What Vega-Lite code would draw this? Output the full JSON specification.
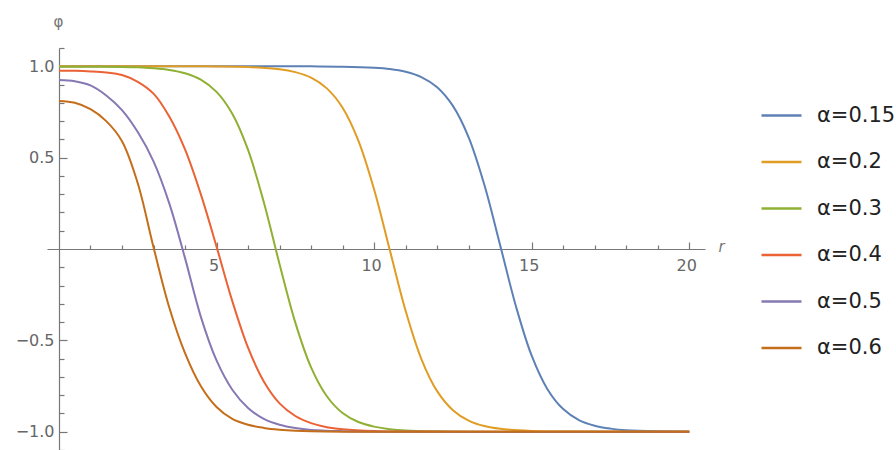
{
  "$schema": "https://vega.github.io/schema/vega-lite/v6.json",
  "width": 658,
  "height": 402,
  "autosize": {"type": "none"},
  "padding": {"left": 47, "top": 48, "right": 191, "bottom": 0},
  "background": "white",
  "config": {"view": {"stroke": null}},
  "datasets": {
    "curves": [
      {"a":"α=0.15","r":0,"p":1},{"a":"α=0.15","r":4,"p":1},{"a":"α=0.15","r":8,"p":0.9995},{"a":"α=0.15","r":9,"p":0.998},{"a":"α=0.15","r":10,"p":0.992},{"a":"α=0.15","r":10.5,"p":0.985},{"a":"α=0.15","r":11,"p":0.970},{"a":"α=0.15","r":11.5,"p":0.941},{"a":"α=0.15","r":12,"p":0.885},{"a":"α=0.15","r":12.5,"p":0.783},{"a":"α=0.15","r":13,"p":0.611},{"a":"α=0.15","r":13.5,"p":0.350},{"a":"α=0.15","r":14,"p":0.021},{"a":"α=0.15","r":14.5,"p":-0.313},{"a":"α=0.15","r":15,"p":-0.584},{"a":"α=0.15","r":15.5,"p":-0.767},{"a":"α=0.15","r":16,"p":-0.876},{"a":"α=0.15","r":16.5,"p":-0.936},{"a":"α=0.15","r":17,"p":-0.967},{"a":"α=0.15","r":17.5,"p":-0.983},{"a":"α=0.15","r":18,"p":-0.992},{"a":"α=0.15","r":19,"p":-0.998},{"a":"α=0.15","r":20,"p":-0.9995},
      {"a":"α=0.2","r":0,"p":1},{"a":"α=0.2","r":4,"p":1},{"a":"α=0.2","r":5,"p":0.999},{"a":"α=0.2","r":6,"p":0.996},{"a":"α=0.2","r":7,"p":0.984},{"a":"α=0.2","r":7.5,"p":0.968},{"a":"α=0.2","r":8,"p":0.938},{"a":"α=0.2","r":8.5,"p":0.879},{"a":"α=0.2","r":9,"p":0.773},{"a":"α=0.2","r":9.5,"p":0.593},{"a":"α=0.2","r":10,"p":0.326},{"a":"α=0.2","r":10.5,"p":-0.007},{"a":"α=0.2","r":11,"p":-0.338},{"a":"α=0.2","r":11.5,"p":-0.602},{"a":"α=0.2","r":12,"p":-0.778},{"a":"α=0.2","r":12.5,"p":-0.882},{"a":"α=0.2","r":13,"p":-0.939},{"a":"α=0.2","r":13.5,"p":-0.969},{"a":"α=0.2","r":14,"p":-0.984},{"a":"α=0.2","r":15,"p":-0.996},{"a":"α=0.2","r":16,"p":-0.999},{"a":"α=0.2","r":20,"p":-1},
      {"a":"α=0.3","r":0,"p":0.997},{"a":"α=0.3","r":1,"p":0.997},{"a":"α=0.3","r":2,"p":0.996},{"a":"α=0.3","r":2.5,"p":0.994},{"a":"α=0.3","r":3,"p":0.989},{"a":"α=0.3","r":3.5,"p":0.980},{"a":"α=0.3","r":4,"p":0.962},{"a":"α=0.3","r":4.5,"p":0.927},{"a":"α=0.3","r":5,"p":0.860},{"a":"α=0.3","r":5.5,"p":0.740},{"a":"α=0.3","r":6,"p":0.542},{"a":"α=0.3","r":6.5,"p":0.256},{"a":"α=0.3","r":7,"p":-0.083},{"a":"α=0.3","r":7.5,"p":-0.403},{"a":"α=0.3","r":8,"p":-0.648},{"a":"α=0.3","r":8.5,"p":-0.806},{"a":"α=0.3","r":9,"p":-0.898},{"a":"α=0.3","r":9.5,"p":-0.947},{"a":"α=0.3","r":10,"p":-0.972},{"a":"α=0.3","r":10.5,"p":-0.986},{"a":"α=0.3","r":11,"p":-0.993},{"a":"α=0.3","r":12,"p":-0.998},{"a":"α=0.3","r":13,"p":-1},{"a":"α=0.3","r":20,"p":-1},
      {"a":"α=0.4","r":0,"p":0.976},{"a":"α=0.4","r":0.5,"p":0.975},{"a":"α=0.4","r":1,"p":0.972},{"a":"α=0.4","r":1.5,"p":0.966},{"a":"α=0.4","r":2,"p":0.952},{"a":"α=0.4","r":2.5,"p":0.915},{"a":"α=0.4","r":3,"p":0.850},{"a":"α=0.4","r":3.5,"p":0.725},{"a":"α=0.4","r":4,"p":0.545},{"a":"α=0.4","r":4.5,"p":0.300},{"a":"α=0.4","r":5,"p":0.013},{"a":"α=0.4","r":5.5,"p":-0.285},{"a":"α=0.4","r":6,"p":-0.540},{"a":"α=0.4","r":6.5,"p":-0.725},{"a":"α=0.4","r":7,"p":-0.845},{"a":"α=0.4","r":7.5,"p":-0.914},{"a":"α=0.4","r":8,"p":-0.953},{"a":"α=0.4","r":8.5,"p":-0.975},{"a":"α=0.4","r":9,"p":-0.986},{"a":"α=0.4","r":10,"p":-0.996},{"a":"α=0.4","r":11,"p":-0.999},{"a":"α=0.4","r":20,"p":-1},
      {"a":"α=0.5","r":0,"p":0.925},{"a":"α=0.5","r":0.5,"p":0.918},{"a":"α=0.5","r":1,"p":0.895},{"a":"α=0.5","r":1.5,"p":0.84},{"a":"α=0.5","r":2,"p":0.76},{"a":"α=0.5","r":2.5,"p":0.64},{"a":"α=0.5","r":3,"p":0.48},{"a":"α=0.5","r":3.5,"p":0.25},{"a":"α=0.5","r":4,"p":-0.05},{"a":"α=0.5","r":4.5,"p":-0.37},{"a":"α=0.5","r":5,"p":-0.61},{"a":"α=0.5","r":5.5,"p":-0.77},{"a":"α=0.5","r":6,"p":-0.87},{"a":"α=0.5","r":6.5,"p":-0.93},{"a":"α=0.5","r":7,"p":-0.962},{"a":"α=0.5","r":7.5,"p":-0.98},{"a":"α=0.5","r":8,"p":-0.99},{"a":"α=0.5","r":9,"p":-0.997},{"a":"α=0.5","r":10,"p":-1},{"a":"α=0.5","r":20,"p":-1},
      {"a":"α=0.6","r":0,"p":0.81},{"a":"α=0.6","r":0.5,"p":0.80},{"a":"α=0.6","r":1,"p":0.765},{"a":"α=0.6","r":1.5,"p":0.70},{"a":"α=0.6","r":2,"p":0.59},{"a":"α=0.6","r":2.5,"p":0.36},{"a":"α=0.6","r":3,"p":0.01},{"a":"α=0.6","r":3.5,"p":-0.32},{"a":"α=0.6","r":4,"p":-0.57},{"a":"α=0.6","r":4.5,"p":-0.75},{"a":"α=0.6","r":5,"p":-0.865},{"a":"α=0.6","r":5.5,"p":-0.93},{"a":"α=0.6","r":6,"p":-0.962},{"a":"α=0.6","r":6.5,"p":-0.979},{"a":"α=0.6","r":7,"p":-0.989},{"a":"α=0.6","r":7.5,"p":-0.995},{"a":"α=0.6","r":8,"p":-0.998},{"a":"α=0.6","r":9,"p":-1},{"a":"α=0.6","r":20,"p":-1}
    ]
  },
  "data": {"name": "curves"},
  "mark": {"type": "line", "strokeWidth": 2, "interpolate": "catmull-rom"},
  "encoding": {
    "x": {
      "field": "r", "type": "quantitative",
      "scale": {"domain": [-0.38, 20.5], "nice": false, "zero": false},
      "axis": {
        "orient": "bottom",
        "offset": -201,
        "values": [1,2,3,4,5,6,7,8,9,10,11,12,13,14,15,16,17,18,19,20],
        "labelExpr": "datum.value % 5 == 0 ? datum.label : ''",
        "format": "d",
        "grid": false,
        "domainColor": "#777777",
        "domainWidth": 1.2,
        "tickColor": "#777777",
        "tickWidth": 1.2,
        "tickSize": {"condition": {"test": "datum.value % 5 == 0", "value": -7}, "value": -4},
        "labelPadding": 15,
        "labelOffset": -3,
        "labelFont": "DejaVu Sans",
        "labelFontSize": 16,
        "labelColor": "#666666",
        "labelBaseline": "top",
        "title": "r",
        "titleFont": "DejaVu Sans",
        "titleFontStyle": "italic",
        "titleFontWeight": "normal",
        "titleFontSize": 15,
        "titleColor": "#777777",
        "titleX": 674,
        "titleY": -3,
        "titleAlign": "center",
        "titleBaseline": "middle"
      }
    },
    "y": {
      "field": "p", "type": "quantitative",
      "scale": {"domain": [-1.1, 1.1], "nice": false, "zero": false},
      "axis": {
        "orient": "left",
        "offset": -12,
        "values": [-1.1,-1.0,-0.9,-0.8,-0.7,-0.6,-0.5,-0.4,-0.3,-0.2,-0.1,0.1,0.2,0.3,0.4,0.5,0.6,0.7,0.8,0.9,1.0,1.1],
        "format": ".1f",
        "labelExpr": "abs(datum.value) == 0.5 || abs(datum.value) == 1 ? datum.label : ''",
        "grid": false,
        "domainColor": "#777777",
        "domainWidth": 1.2,
        "tickColor": "#777777",
        "tickWidth": 1.2,
        "tickSize": {"condition": {"test": "abs(datum.value) == 0.5 || abs(datum.value) == 1", "value": -8}, "value": -5},
        "labelPadding": 13,
        "labelFont": "DejaVu Sans",
        "labelFontSize": 16,
        "labelColor": "#666666",
        "title": "φ",
        "titleFont": "DejaVu Sans",
        "titleFontWeight": "normal",
        "titleFontSize": 15,
        "titleColor": "#777777",
        "titleAngle": 0,
        "titleX": -1,
        "titleY": -27,
        "titleAlign": "center",
        "titleBaseline": "middle"
      }
    },
    "color": {
      "field": "a", "type": "nominal",
      "scale": {
        "domain": ["α=0.15","α=0.2","α=0.3","α=0.4","α=0.5","α=0.6"],
        "range": ["#5E81B5","#E19C24","#8FB032","#EB6235","#8778B3","#C56E1A"]
      },
      "legend": {
        "orient": "none",
        "legendX": 713,
        "legendY": 46,
        "title": null,
        "padding": 0,
        "symbolType": "stroke",
        "symbolSize": 1600,
        "symbolStrokeWidth": 2.5,
        "rowPadding": 14.5,
        "labelOffset": 14,
        "labelFont": "DejaVu Sans",
        "labelFontSize": 21,
        "labelColor": "#222222",
        "labelLimit": 200
      }
    }
  }
}
